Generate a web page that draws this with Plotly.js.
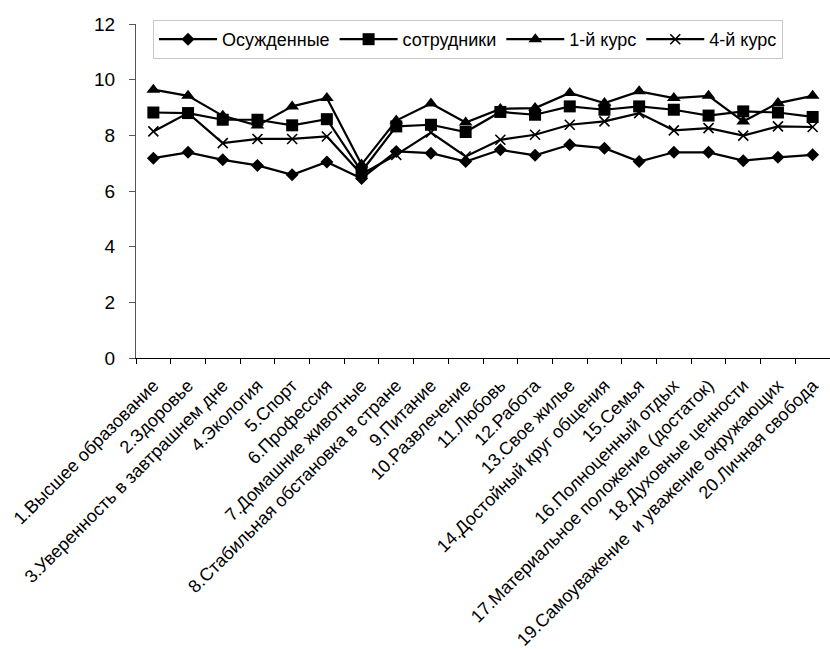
<!DOCTYPE html>
<html>
<head>
<meta charset="utf-8">
<script src="https://cdn.plot.ly/plotly-3.0.1.min.js"></script>
<style>body{margin:0;background:#fff}#chart{width:830px;height:649px}</style>
</head>
<body>
<div id="chart"></div>
<script>
const categories = [
  "1.Высшее образование",
  "2.Здоровье",
  "3.Уверенность в завтрашнем дне",
  "4.Экология",
  "5.Спорт",
  "6.Профессия",
  "7.Домашние животные",
  "8.Стабильная обстановка в стране",
  "9.Питание",
  "10.Развлечение",
  "11.Любовь",
  "12.Работа",
  "13.Свое жилье",
  "14.Достойный круг общения",
  "15.Семья",
  "16.Полноценный отдых",
  "17.Материальное положение (достаток)",
  "18.Духовные ценности",
  "19.Самоуважение  и уважение окружающих",
  "20.Личная свобода"
];
const osuzhdennye = [7.18, 7.39, 7.12, 6.92, 6.58, 7.04, 6.45, 7.42, 7.36, 7.06, 7.48, 7.28, 7.66, 7.54, 7.06, 7.39, 7.39, 7.09, 7.21, 7.30];
const sotrudniki  = [8.82, 8.80, 8.56, 8.56, 8.36, 8.58, 6.70, 8.32, 8.38, 8.12, 8.84, 8.74, 9.04, 8.92, 9.04, 8.92, 8.71, 8.86, 8.82, 8.66];
const kurs1       = [9.64, 9.42, 8.70, 8.35, 9.04, 9.34, 6.95, 8.53, 9.14, 8.46, 8.95, 8.98, 9.52, 9.16, 9.58, 9.34, 9.42, 8.50, 9.16, 9.42];
const kurs4       = [8.14, 8.80, 7.72, 7.87, 7.87, 7.96, 6.60, 7.30, 8.10, 7.24, 7.84, 8.02, 8.38, 8.50, 8.80, 8.18, 8.26, 7.99, 8.32, 8.30];
const seriesNames = ["Осужденные", "сотрудники", "1-й курс", "4-й курс"];

const symbols = ["diamond", "square", "triangle-up", "x-thin-open"];
const sizes = [10, 12, 12, 10];
const data = [osuzhdennye, sotrudniki, kurs1, kurs4].map((ys, i) => ({
  type: "scatter",
  mode: "lines+markers",
  name: seriesNames[i],
  x: categories,
  y: ys,
  line: {color: "#000", width: 2.2},
  marker: {symbol: symbols[i], size: sizes[i], color: "#000", line: {color: "#000", width: i === 3 ? 1.6 : 0}}
}));

const layout = {
  width: 830, height: 649,
  margin: {l: 136, r: 0, t: 24, b: 291},
  paper_bgcolor: "#fff", plot_bgcolor: "#fff",
  font: {family: "Liberation Sans, Arial, sans-serif", color: "#000", size: 18},
  showlegend: true,
  legend: {
    orientation: "h", x: 0.0245, xanchor: "left", y: 1.012, yanchor: "top",
    bgcolor: "#fff", bordercolor: "#c8c8c8", borderwidth: 1,
    font: {size: 18}, itemwidth: 58, itemclick: false
  },
  xaxis: {
    type: "category",
    showline: true, linecolor: "#000", linewidth: 1,
    ticks: "outside", ticklen: 5, tickcolor: "#000", tickson: "boundaries",
    tickangle: -45, tickfont: {size: 18}, ticklabelstandoff: 9,
    showgrid: false, zeroline: false, automargin: false,
    range: [-0.5, 19.5]
  },
  yaxis: {
    range: [0, 12], dtick: 2,
    showline: true, linecolor: "#555", linewidth: 1,
    ticks: "outside", ticklen: 6, tickcolor: "#555",
    tickfont: {size: 19}, ticklabelstandoff: 10,
    showgrid: false, zeroline: false, automargin: false
  }
};
Plotly.newPlot("chart", data, layout, {displayModeBar: false, staticPlot: true});
</script>
</body>
</html>
